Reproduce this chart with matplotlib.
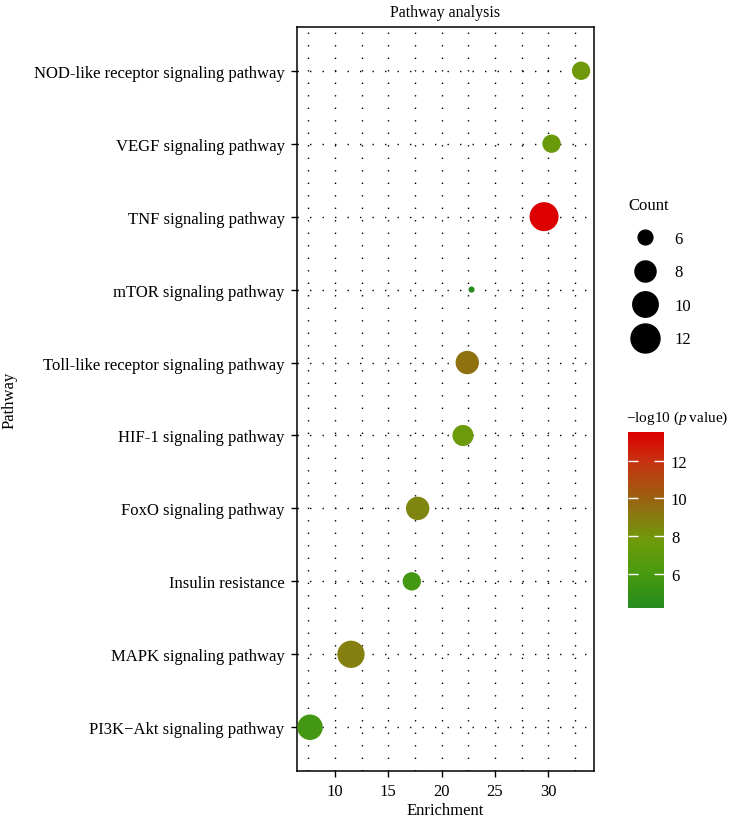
import numpy as np
import matplotlib
matplotlib.use('Agg')
import matplotlib.pyplot as plt
from matplotlib.colors import LinearSegmentedColormap, Normalize
from matplotlib.lines import Line2D

plt.rcParams['font.family'] = ['Liberation Serif', 'DejaVu Serif']
plt.rcParams['mathtext.fontset'] = 'custom'
plt.rcParams['mathtext.rm'] = 'Liberation Serif'
plt.rcParams['mathtext.it'] = 'Liberation Serif:italic'

# Data (bottom to top on the y axis)
pathways = ['PI3K\u2212Akt signaling pathway', 'MAPK signaling pathway', 'Insulin resistance',
            'FoxO signaling pathway', 'HIF-1 signaling pathway', 'Toll-like receptor signaling pathway',
            'mTOR signaling pathway', 'TNF signaling pathway', 'VEGF signaling pathway',
            'NOD-like receptor signaling pathway']
enrichment = [7.66, 11.5, 17.2, 17.75, 22.0, 22.4, 22.8, 29.6, 30.3, 33.07]
counts = [10, 11, 7, 9, 8, 9, 5, 12, 7, 7]
neglog_p = [5.8, 8.9, 5.8, 8.6, 7.6, 9.4, 4.21, 13.51, 7.5, 7.8]
count_breaks = [6, 8, 10, 12]
color_ticks = [6, 8, 10, 12]

# green -> olive -> brown -> red gradient as seen in the colour bar
cmap = LinearSegmentedColormap.from_list('pv', [
    (0.0, '#238B1E'), (0.2, '#4A9A0E'), (0.38, '#6E9A0A'), (0.5, '#848010'),
    (0.62, '#9A6210'), (0.84, '#C83010'), (1.0, '#DC0000')])
norm = Normalize(vmin=min(neglog_p), vmax=max(neglog_p))

# size scale like ggplot scale_size (area), converted to matplotlib points
cmin, cmax = min(counts), max(counts)


def marker_diam(c):
    size = 1 + 5 * np.sqrt((np.asarray(c, float) - cmin) / (cmax - cmin))
    return (size * 2.845 + 0.945) * 1.61 * 0.72


fig = plt.figure(figsize=(7.32, 8.2), dpi=100)
ax = fig.add_axes([297 / 732, 1 - 772 / 820, 297 / 732, 744 / 820])

ypos = np.arange(1, len(pathways) + 1)
ax.scatter(enrichment, ypos, s=marker_diam(counts) ** 2, c=neglog_p, cmap=cmap, norm=norm,
           linewidths=0, zorder=3)

ax.set_xlim(6.44, 34.28)
ax.set_ylim(0.4, len(pathways) + 0.6)
ax.set_yticks(ypos)
ax.set_yticklabels(pathways)
ax.set_xticks([10, 15, 20, 25, 30])
ax.set_xticks(np.arange(7.5, 34, 2.5), minor=True)
ax.tick_params(axis='x', which='minor', length=0)
ax.tick_params(axis='both', which='major', labelsize=12, length=4, width=1, pad=5, colors='black')
ax.grid(True, which='both', axis='x', color='black', linestyle=(0, (1, 8)), linewidth=1.0)
ax.grid(True, which='major', axis='y', color='black', linestyle=(0, (1, 8)), linewidth=1.0)
ax.set_axisbelow(True)
for sp in ax.spines.values():
    sp.set_linewidth(1.1)

ax.set_xlabel('Enrichment', fontsize=12, labelpad=2)
ax.set_ylabel('Pathway', fontsize=12)
ax.set_title('Pathway analysis', fontsize=11.5, pad=8)
ax.yaxis.set_label_coords((18 - 297) / 297, 0.5)

# size legend
handles = [Line2D([], [], linestyle='none', marker='o', color='black', markersize=marker_diam(b))
           for b in count_breaks]
leg = fig.legend(handles, [str(b) for b in count_breaks], title='Count', loc='upper left',
                 bbox_to_anchor=(620 / 732, 1 - 190 / 820), frameon=False, fontsize=12,
                 title_fontsize=12, labelspacing=1.05, handletextpad=0.75, borderpad=0,
                 alignment='left')

# colourbar
cax = fig.add_axes([628 / 732, 1 - 609 / 820, 36 / 732, 176 / 820])
sm = matplotlib.cm.ScalarMappable(norm=norm, cmap=cmap)
cb = fig.colorbar(sm, cax=cax, ticks=color_ticks)
cb.outline.set_visible(False)
cax.tick_params(axis='y', direction='in', color='white', length=7, width=1, labelsize=12,
                left=True, right=True, pad=5)
fig.text(626 / 732, 1 - 418 / 820, '\u2212log10 ($\\mathit{p}$\u2009value)', fontsize=11,
         va='center', ha='left')

fig.savefig('out.png', dpi=100)
